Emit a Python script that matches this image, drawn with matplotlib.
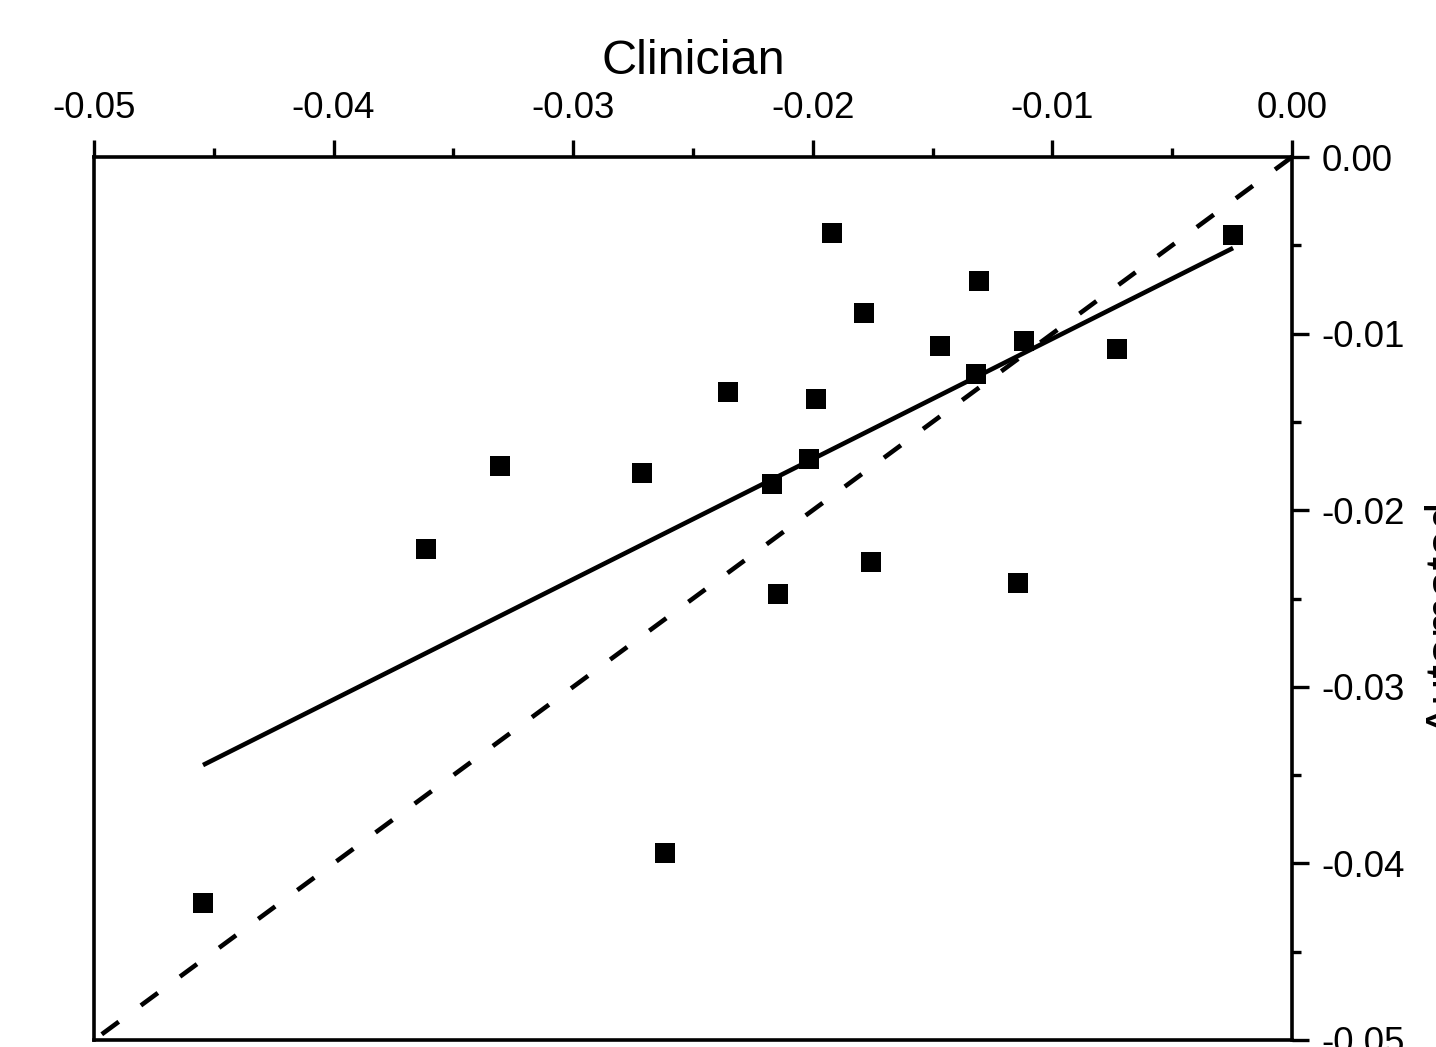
import numpy as np
import matplotlib
matplotlib.use("Agg")
import matplotlib.pyplot as plt
from matplotlib.ticker import MultipleLocator, FormatStrFormatter

# ==========================================
# DATA
# ==========================================
clinician = [-0.0192, -0.00246, -0.01306, -0.01786, -0.01469, -0.01119, -0.00730,
             -0.01319, -0.02354, -0.01987, -0.03305, -0.02713, -0.02016, -0.0217,
             -0.03614, -0.01757, -0.02145, -0.01144, -0.02617, -0.04545]
automated = [-0.0043, -0.0044, -0.00702, -0.00883, -0.0107, -0.01042, -0.01087,
             -0.01229, -0.01331, -0.0137, -0.0175, -0.01789, -0.0171, -0.01852,
             -0.0222, -0.02293, -0.02475, -0.02412, -0.03941, -0.04224]

fit_slope = 0.681
fit_intercept = -0.00348

identity = [0.0, -0.05]
x_ticks = [-0.05, -0.04, -0.03, -0.02, -0.01, 0.00]
y_ticks = [0.00, -0.01, -0.02, -0.03, -0.04, -0.05]

x_label = "Clinician"
y_label = "Automated"

# ==========================================
# PLOT
# ==========================================
plt.rcParams["font.family"] = ["Liberation Sans", "DejaVu Sans"]
plt.rcParams["axes.unicode_minus"] = False

fig = plt.figure(figsize=(14.36, 10.47), dpi=100)
ax = fig.add_axes([0.06546, 0.006686, 0.83426, 0.84336])

# identity line, drawn from the top-right corner down
ax.plot(identity, identity, color="black", lw=3.3, linestyle=(0, (4.6, 6.0)),
        dash_capstyle="butt", clip_on=False)

# fitted line over the data range
fx = np.array([min(clinician), max(clinician)])
ax.plot(fx, fit_slope * fx + fit_intercept, color="black", lw=3.3,
        solid_capstyle="butt")

ax.plot(clinician, automated, linestyle="none", marker="s", ms=14.5,
        color="black", markeredgewidth=0)

ax.set_xlim(-0.05, 0.0)
ax.set_ylim(-0.05, 0.0)

ax.xaxis.tick_top()
ax.xaxis.set_label_position("top")
ax.yaxis.tick_right()
ax.yaxis.set_label_position("right")

ax.set_xticks(x_ticks)
ax.set_yticks(y_ticks)
ax.xaxis.set_minor_locator(MultipleLocator(0.005))
ax.yaxis.set_minor_locator(MultipleLocator(0.005))
ax.xaxis.set_major_formatter(FormatStrFormatter("%.2f"))
ax.yaxis.set_major_formatter(FormatStrFormatter("%.2f"))

ax.tick_params(which="major", direction="out", length=12, width=2.4,
               labelsize=26.5)
ax.tick_params(axis="x", which="major", pad=10.5)
ax.tick_params(axis="y", which="major", pad=9)
ax.tick_params(which="minor", direction="out", length=6.5, width=2.4)

for sp in ax.spines.values():
    sp.set_linewidth(2.6)

ax.set_xlabel(x_label, fontsize=35, labelpad=12)
ax.set_ylabel(y_label, fontsize=35, rotation=90)
ax.yaxis.set_label_coords(1.111, 0.478)

fig.savefig("out.png", dpi=100)
